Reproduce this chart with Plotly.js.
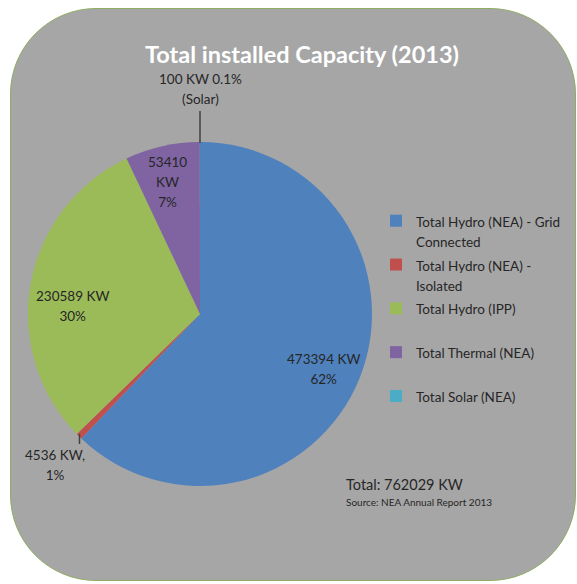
<!DOCTYPE html>
<html>
<head>
<meta charset="utf-8">
<script src="https://cdn.plot.ly/plotly-3.0.1.min.js"></script>
<style>
  html, body { margin: 0; padding: 0; background: #ffffff; }
  #wrap { position: relative; width: 577px; height: 584px; }
  #bg { position: absolute; left: 10px; top: 8px; width: 566px; height: 573px;
        background: #a6a6a6; border: 1.5px solid #8fac63; border-radius: 86px; box-sizing: border-box; }
  #chart { position: absolute; left: 0; top: 0; width: 577px; height: 584px; }
</style>
</head>
<body>
<div id="wrap">
  <div id="bg"></div>
  <div id="chart"></div>
</div>
<script>
// ---- data ----
const categories = [
  "Total Hydro (NEA) - Grid<br>Connected",
  "Total Hydro (NEA) -<br>Isolated",
  "Total Hydro (IPP)<br> ",
  "Total Thermal (NEA)<br> ",
  "Total Solar (NEA)<br> "
];
const valuesKW = [473394, 4536, 230589, 53410, 100];
const percentLabels = ["62%", "1%", "30%", "7%", "0.1%"];
const colors = ["#4f81bd", "#c0504d", "#9bbb59", "#8064a2", "#4bacc6"];

const totalKW = valuesKW.reduce((a, b) => a + b, 0);

const fontFam = "Lato, 'Open Sans', sans-serif";
const txtColor = "#262626";

// wrap each line in a smaller span so the line height stays Excel-like
const small = (t, px) => t.split("<br>").map(s => '<span style="font-size:' + px + 'px">' + s + '</span>').join("<br>");

const trace = {
  type: "pie",
  labels: categories.map(c => small(c, 13.5)),
  values: valuesKW,
  sort: false,
  direction: "clockwise",
  rotation: 0,
  textinfo: "none",
  hoverinfo: "label+value+percent",
  marker: { colors: colors, line: { width: 0 } },
  domain: { x: [28 / 577, 372 / 577], y: [98 / 584, 442 / 584] },
  showlegend: true
};

const lbl = (i, sep) => valuesKW[i] + " KW" + sep + percentLabels[i];

const annotations = [
  { text: lbl(0, "<br>"), x: 323 / 577, y: 1 - 369 / 584 },
  { text: lbl(2, "<br>"), x: 72 / 577, y: 1 - 306 / 584 },
  { text: valuesKW[3] + "<br>KW<br>" + percentLabels[3], x: 167 / 577, y: 1 - 182 / 584 },
  { text: valuesKW[4] + " KW " + percentLabels[4] + "<br>(Solar)", x: 200 / 577, y: 1 - 89 / 584 },
  { text: valuesKW[1] + " KW,<br>" + percentLabels[1], x: 55 / 577, y: 1 - 465 / 584 }
].map(a => ({
  text: small(a.text, 13.5), x: a.x, y: a.y, xref: "paper", yref: "paper",
  xanchor: "center", yanchor: "middle", showarrow: false, align: "center",
  font: { family: fontFam, size: 15.5, color: txtColor }
}));

annotations.push({
  text: "Total: " + totalKW + " KW", x: 344 / 577, y: 1 - 484 / 584,
  xref: "paper", yref: "paper", xanchor: "left", yanchor: "middle", showarrow: false,
  font: { family: fontFam, size: 14.5, color: txtColor }
});
annotations.push({
  text: "Source: NEA Annual Report 2013", x: 344 / 577, y: 1 - 502 / 584,
  xref: "paper", yref: "paper", xanchor: "left", yanchor: "middle", showarrow: false,
  font: { family: fontFam, size: 10, color: txtColor }
});

const shapes = [
  { type: "line", xref: "paper", yref: "paper", x0: 200 / 577, x1: 200 / 577, y0: 1 - 111 / 584, y1: 1 - 143 / 584,
    line: { color: "#404040", width: 1.5 } },
  { type: "line", xref: "paper", yref: "paper", x0: 79.5 / 577, x1: 79.5 / 577, y0: 1 - 434 / 584, y1: 1 - 444 / 584,
    line: { color: "#404040", width: 1.5 } }
];

const layout = {
  width: 577, height: 584,
  margin: { l: 0, r: 0, t: 0, b: 0 },
  paper_bgcolor: "rgba(0,0,0,0)",
  plot_bgcolor: "rgba(0,0,0,0)",
  title: {
    text: "<b>Total installed Capacity (2013)</b>",
    x: 302 / 577, xanchor: "center", xref: "paper",
    y: 1 - 55 / 584, yanchor: "middle", yref: "paper",
    font: { family: fontFam, size: 23.5, color: "#ffffff" }
  },
  showlegend: true,
  legend: {
    x: 376 / 577, xanchor: "left",
    y: 1 - 204 / 584, yanchor: "top",
    bgcolor: "rgba(0,0,0,0)",
    valign: "top",
    font: { family: fontFam, size: 15.7, color: txtColor }
  },
  annotations: annotations,
  shapes: shapes
};

Plotly.newPlot("chart", [trace], layout, { displayModeBar: false, staticPlot: true });
</script>
</body>
</html>
